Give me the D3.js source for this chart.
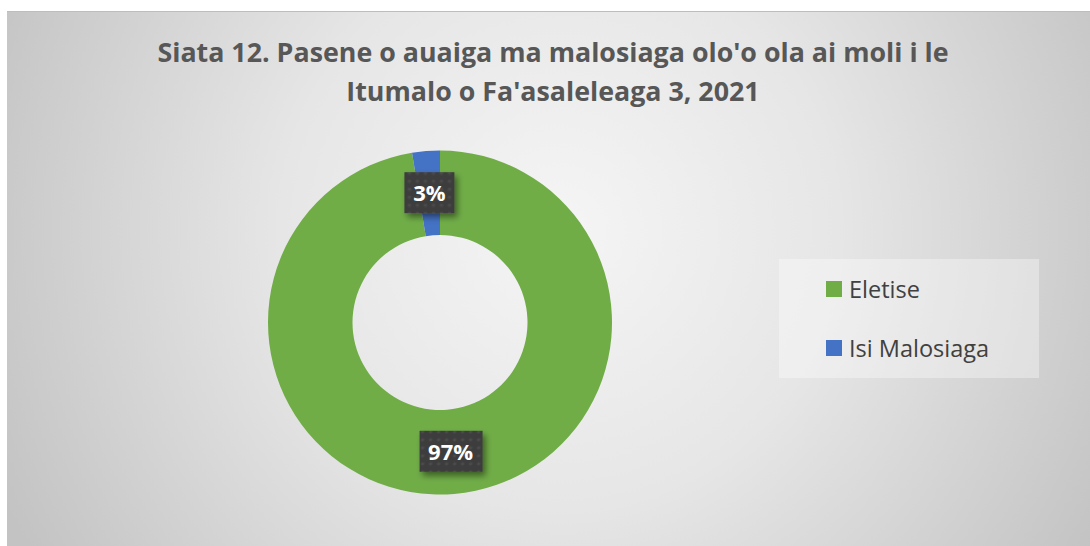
<!DOCTYPE html>
<html>
<head>
<meta charset="utf-8">
<script src="https://cdn.jsdelivr.net/npm/d3@7"></script>
<style>
  body { margin: 0; background: #fff; }
  svg { display: block; }
</style>
</head>
<body>
<svg width="1090" height="546"></svg>
<script>
var titleLines = ["Siata 12. Pasene o auaiga ma malosiaga olo'o ola ai moli i le", "Itumalo o Fa'asaleleaga 3, 2021"];
var categories = ['Eletise', 'Isi Malosiaga'];
var values = [97.4, 2.6];
var colours = ['#70ad47', '#4472c4'];

var data = categories.map(function(c, i){ return {name: c, value: values[i]}; });

var svg = d3.select('svg'),
	width = +svg.attr('width'),
	height = +svg.attr('height');

var defs = svg.append('defs');

var bg = defs.append('radialGradient')
	.attr('id', 'bg')
	.attr('gradientUnits', 'userSpaceOnUse')
	.attr('cx', 560).attr('cy', 230).attr('r', 620);
bg.append('stop').attr('offset', '0%').attr('stop-color', '#f5f5f5');
bg.append('stop').attr('offset', '45%').attr('stop-color', '#e6e6e6');
bg.append('stop').attr('offset', '100%').attr('stop-color', '#c3c3c3');

var dots = defs.append('pattern')
	.attr('id', 'dots')
	.attr('patternUnits', 'userSpaceOnUse')
	.attr('width', 8).attr('height', 8);
dots.append('rect').attr('width', 8).attr('height', 8).attr('fill', '#3e3e3e');
dots.append('circle').attr('cx', 4).attr('cy', 4).attr('r', 1.6).attr('fill', '#4c4c4c');

var shadow = defs.append('filter').attr('id', 'shadow')
	.attr('x', '-30%').attr('y', '-30%').attr('width', '170%').attr('height', '170%');
shadow.append('feDropShadow')
	.attr('dx', 3).attr('dy', 4).attr('stdDeviation', 3)
	.attr('flood-color', '#000').attr('flood-opacity', 0.45);

// chart area
svg.append('rect')
	.attr('x', 7).attr('y', 11)
	.attr('width', width - 7).attr('height', height - 11)
	.attr('fill', 'url(#bg)');
svg.append('line')
	.attr('x1', 7).attr('x2', width).attr('y1', 11.5).attr('y2', 11.5)
	.attr('stroke', '#bdbdbd').attr('stroke-width', 1);

// title
svg.append('g').selectAll('text')
	.data(titleLines)
	.enter().append('text')
		.attr('x', 553)
		.attr('y', function(d, i){ return 62 + i * 39; })
		.attr('text-anchor', 'middle')
		.attr('font-family', 'Open Sans, sans-serif')
		.attr('font-weight', 'bold')
		.attr('font-size', 26.8)
		.attr('fill', '#575757')
		.text(function(d){ return d; });

// donut
var cx = 440, cy = 322.5,
	outer = 172, inner = 87.5;

var g = svg.append('g').attr('transform', 'translate(' + cx + ',' + cy + ')');

var pie = d3.pie()
	.sort(null)
	.value(function(d){ return d.value; });

var path = d3.arc()
	.outerRadius(outer)
	.innerRadius(inner);

var total = d3.sum(values);
var fmt = function(v){ return Math.round(v / total * 100) + '%'; };

var arcs = g.selectAll('.arc')
	.data(pie(data))
	.enter().append('g')
		.attr('class', 'arc');

arcs.append('path')
	.attr('d', path)
	.attr('fill', function(d, i){ return colours[i]; });

var lbl = arcs.append('g')
	.attr('transform', function(d){ return 'translate(' + path.centroid(d) + ')'; });

lbl.append('rect')
	.attr('x', function(d){ return fmt(d.data.value).length > 2 ? -31 : -25; })
	.attr('y', -21)
	.attr('width', function(d){ return fmt(d.data.value).length > 2 ? 63 : 50; })
	.attr('height', 41)
	.attr('fill', 'url(#dots)')
	.attr('filter', 'url(#shadow)');

lbl.append('text')
	.attr('text-anchor', 'middle')
	.attr('dy', '0.36em')
	.attr('font-family', 'Open Sans, sans-serif')
	.attr('font-weight', 'bold')
	.attr('font-size', 22)
	.attr('fill', '#fff')
	.text(function(d){ return fmt(d.data.value); });

// legend
var legend = svg.append('g');
legend.append('rect')
	.attr('x', 779).attr('y', 259)
	.attr('width', 260).attr('height', 119)
	.attr('fill', '#fff').attr('fill-opacity', 0.35);

var item = legend.selectAll('.item')
	.data(categories)
	.enter().append('g')
		.attr('class', 'item')
		.attr('transform', function(d, i){ return 'translate(826,' + (281 + i * 59) + ')'; });

item.append('rect')
	.attr('width', 16).attr('height', 16)
	.attr('fill', function(d, i){ return colours[i]; });

item.append('text')
	.attr('x', 23).attr('y', 17)
	.attr('font-family', 'Open Sans, sans-serif')
	.attr('font-size', 23.5)
	.attr('fill', '#404040')
	.text(function(d){ return d; });
</script>
</body>
</html>
